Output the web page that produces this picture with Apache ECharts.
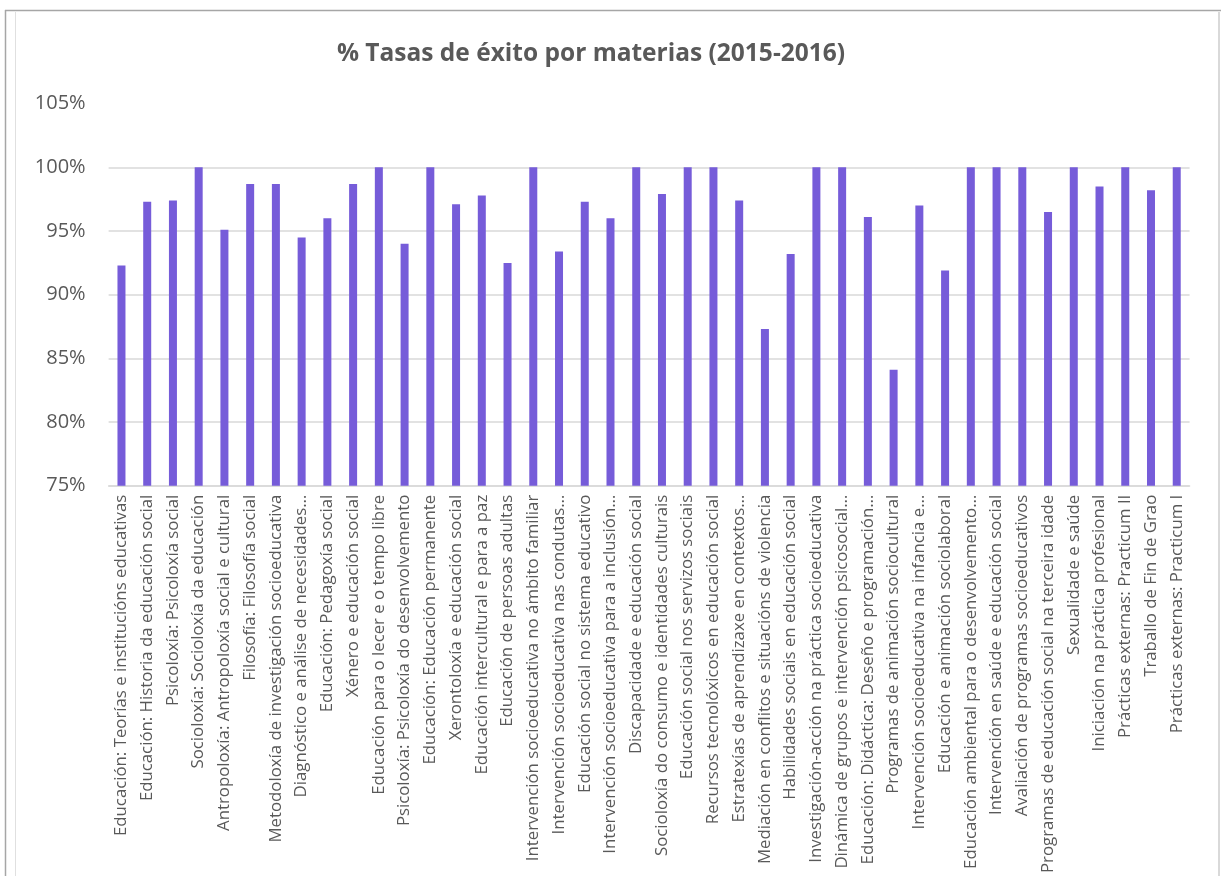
<!DOCTYPE html>
<html>
<head>
<meta charset="utf-8">
<script src="https://cdn.jsdelivr.net/npm/echarts@6/dist/echarts.min.js"></script>
<style>
html,body{margin:0;padding:0;background:#fff;}
#chart{width:1223px;height:876px;}
</style>
</head>
<body>
<div id="chart"></div>
<script>
const titleText = '% Tasas de éxito por materias (2015-2016)';
const categories = [
  'Educación: Teorías e institucións educativas',
  'Educación: Historia da educación social',
  'Psicoloxía: Psicoloxía social',
  'Socioloxía: Socioloxía da educación',
  'Antropoloxía: Antropoloxía social e cultural',
  'Filosofía: Filosofía social',
  'Metodoloxía de investigación socioeducativa',
  'Diagnóstico e análise de necesidades…',
  'Educación: Pedagoxía social',
  'Xénero e educación social',
  'Educación para o lecer e o tempo libre',
  'Psicoloxía: Psicoloxía do desenvolvemento',
  'Educación: Educación permanente',
  'Xerontoloxía e educación social',
  'Educación intercultural e para a paz',
  'Educación de persoas adultas',
  'Intervención socioeducativa no ámbito familiar',
  'Intervención socioeducativa nas condutas…',
  'Educación social no sistema educativo',
  'Intervención socioeducativa para a inclusión…',
  'Discapacidade e educación social',
  'Socioloxía do consumo e identidades culturais',
  'Educación social nos servizos sociais',
  'Recursos tecnolóxicos en educación social',
  'Estratexías de aprendizaxe en contextos…',
  'Mediación en conflitos e situacións de violencia',
  'Habilidades sociais en educación social',
  'Investigación-acción na práctica socioeducativa',
  'Dinámica de grupos e intervención psicosocial…',
  'Educación: Didáctica: Deseño e programación…',
  'Programas de animación sociocultural',
  'Intervención socioeducativa na infancia e…',
  'Educación e animación sociolaboral',
  'Educación ambiental para o desenvolvemento…',
  'Intervención en saúde e educación social',
  'Avaliación de programas socioeducativos',
  'Programas de educación social na terceira idade',
  'Sexualidade e saúde',
  'Iniciación na práctica profesional',
  'Prácticas externas: Practicum II',
  'Traballo de Fin de Grao',
  'Prácticas externas: Practicum I'
];
const successRates = [
  92.3, 97.3, 97.4, 100, 95.1, 98.7, 98.7, 94.5, 96.0, 98.7,
  100, 94.0, 100, 97.1, 97.8, 92.5, 100, 93.4, 97.3, 96.0,
  100, 97.9, 100, 100, 97.4, 87.3, 93.2, 100, 100, 96.1,
  84.1, 97.0, 91.9, 100, 100, 100, 96.5, 100, 98.5, 100,
  98.2, 100
];
const yTicks = { min: 75, max: 105, interval: 5 };

const chart = echarts.init(document.getElementById('chart'), null, {renderer: 'canvas'});
chart.setOption({
  animation: false,
  backgroundColor: '#ffffff',
  title: {
    text: titleText,
    left: 586, top: 37,
    textAlign: 'center',
    textStyle: {fontFamily: 'Open Sans', fontWeight: 'bold', fontSize: 24.5, color: '#595959'}
  },
  grid: {left: 108.6, right: 33.4, top: 103.7, bottom: 388.3, containLabel: false},
  xAxis: {
    type: 'category',
    data: categories,
    axisLine: {show: true, lineStyle: {color: '#d9d9d9', width: 1.5}},
    axisTick: {show: false},
    axisLabel: {
      interval: 0, rotate: 90, margin: 9,
      fontFamily: 'Open Sans', fontSize: 16.8, color: '#595959'
    },
    splitLine: {show: false}
  },
  yAxis: {
    type: 'value',
    min: yTicks.min, max: yTicks.max, interval: yTicks.interval,
    axisLine: {show: false},
    axisTick: {show: false},
    axisLabel: {
      formatter: v => v + '%', margin: 23,
      fontFamily: 'Open Sans', fontSize: 20, color: '#595959'
    },
    splitLine: {show: true, lineStyle: {color: ['#d9d9d9','#d9d9d9','#d9d9d9','#d9d9d9','#d9d9d9','#d9d9d9','rgba(0,0,0,0)'], width: 1.5}}
  },
  series: [{
    type: 'bar',
    data: successRates,
    barWidth: 8,
    itemStyle: {color: '#765cd9'}
  }],
  graphic: [
    {type: 'line', shape: {x1: 5, y1: 10.5, x2: 1221, y2: 10.5}, style: {stroke: '#a6a6a6', lineWidth: 1.5}},
    {type: 'line', shape: {x1: 5.5, y1: 10, x2: 5.5, y2: 876}, style: {stroke: '#a6a6a6', lineWidth: 1.5}},
    {type: 'line', shape: {x1: 15.5, y1: 12, x2: 15.5, y2: 876}, style: {stroke: '#e0e0e0', lineWidth: 1}},
    {type: 'line', shape: {x1: 1219, y1: 12, x2: 1219, y2: 876}, style: {stroke: '#d9d9d9', lineWidth: 2}}
  ]
});
</script>
</body>
</html>
